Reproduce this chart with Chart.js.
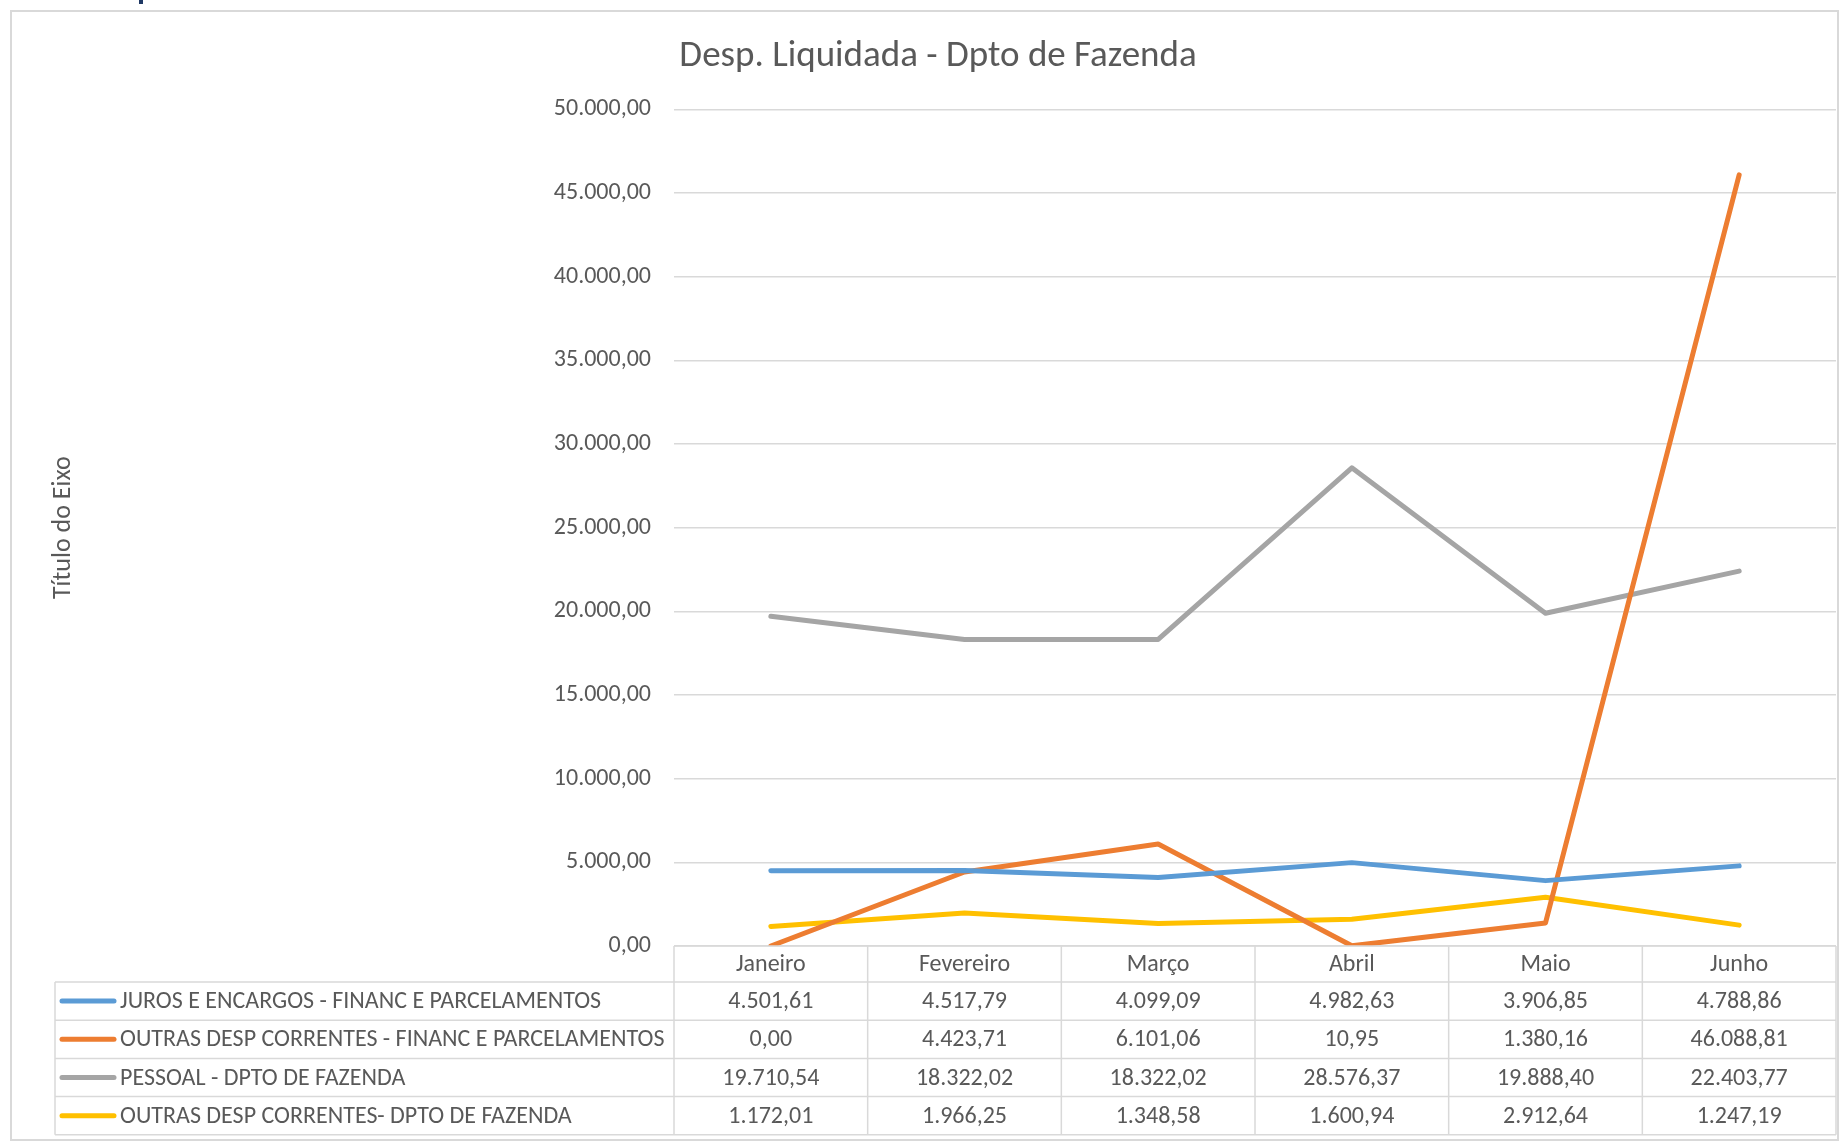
<!DOCTYPE html>
<html>
<head>
<meta charset="utf-8">
<script src="https://cdn.jsdelivr.net/npm/chart.js@4.4.1/dist/chart.umd.min.js"></script>
<style>
  html, body { margin: 0; padding: 0; background: #fff; }
  #wrap { width: 1847px; height: 1144px; position: relative; }
</style>
</head>
<body>
<div id="wrap"><canvas id="lineChart"></canvas></div>
<script>
const months = ['Janeiro', 'Fevereiro', 'Março', 'Abril', 'Maio', 'Junho'];
const juros = [4501.61, 4517.79, 4099.09, 4982.63, 3906.85, 4788.86];
const outrasFinanc = [0.00, 4423.71, 6101.06, 10.95, 1380.16, 46088.81];
const pessoal = [19710.54, 18322.02, 18322.02, 28576.37, 19888.40, 22403.77];
const outrasFazenda = [1172.01, 1966.25, 1348.58, 1600.94, 2912.64, 1247.19];
const seriesNames = [
    'JUROS E ENCARGOS - FINANC E PARCELAMENTOS',
    'OUTRAS DESP CORRENTES - FINANC E PARCELAMENTOS',
    'PESSOAL - DPTO DE FAZENDA',
    'OUTRAS DESP CORRENTES- DPTO DE FAZENDA'
];
const seriesColors = ['#5B9BD5', '#ED7D31', '#A5A5A5', '#FFC000'];
const yMax = 50000;
const yStep = 5000;

const FONT = 'Carlito, Calibri, Lato, sans-serif';
const TEXT = '#595959';
const GRID = '#D9D9D9';

// 4.501,61 style numbers
function fmt(v) {
    const parts = Number(v).toFixed(2).split('.');
    return parts[0].replace(/\B(?=(\d{3})+(?!\d))/g, '.') + ',' + parts[1];
}

// frame + data table under the x axis (Excel style)
const dataTable = {
    id: 'dataTable',
    beforeDraw(chart) {
        const c = chart.ctx;
        c.save();
        c.fillStyle = '#fff';
        c.fillRect(0, 0, chart.width, chart.height);
        c.strokeStyle = GRID;
        c.lineWidth = 2;
        c.strokeRect(11, 11, 1827, 1129);
        c.fillStyle = '#1F3864';
        c.fillRect(139, 0, 4, 4);
        c.restore();
    },
    afterDraw(chart) {
        const c = chart.ctx;
        const area = chart.chartArea;
        const x = chart.scales.x;
        const headerH = 36;
        const rowH = 38.2;
        const legendLeft = 55;
        const top = area.bottom;
        const bodyTop = top + headerH;
        const bottom = bodyTop + rowH * seriesNames.length;
        const colW = x.getPixelForValue(1) - x.getPixelForValue(0);
        const datasets = chart.data.datasets;

        c.save();
        c.strokeStyle = GRID;
        c.lineWidth = 1.5;
        c.beginPath();
        c.moveTo(area.left, top);
        c.lineTo(area.right, top);
        for (let r = 0; r <= seriesNames.length; r++) {
            const y = bodyTop + r * rowH;
            c.moveTo(legendLeft, y);
            c.lineTo(area.right, y);
        }
        for (let i = 0; i <= months.length; i++) {
            const px = x.getPixelForValue(0) - colW / 2 + i * colW;
            c.moveTo(px, top);
            c.lineTo(px, bottom);
        }
        c.moveTo(legendLeft, bodyTop);
        c.lineTo(legendLeft, bottom);
        c.stroke();

        c.font = '24px ' + FONT;
        c.textBaseline = 'middle';
        datasets.forEach((ds, r) => {
            const y = bodyTop + r * rowH + rowH / 2;
            c.strokeStyle = ds.borderColor;
            c.lineWidth = 5;
            c.lineCap = 'round';
            c.beginPath();
            c.moveTo(62, y);
            c.lineTo(114, y);
            c.stroke();
            c.fillStyle = TEXT;
            c.textAlign = 'left';
            c.fillText(ds.label, 120, y + 1);
            c.textAlign = 'center';
            ds.data.forEach((v, i) => {
                c.fillText(fmt(v), x.getPixelForValue(i), y + 1);
            });
        });
        c.restore();
    }
};

const ctx = document.getElementById('lineChart').getContext('2d');
const lineChart = new Chart(ctx, {
    type: 'line',
    data: {
        labels: months,
        datasets: [juros, outrasFinanc, pessoal, outrasFazenda].map((d, i) => ({
            label: seriesNames[i],
            data: d,
            borderColor: seriesColors[i],
            backgroundColor: seriesColors[i],
            borderWidth: 5,
            borderCapStyle: 'round',
            borderJoinStyle: 'round',
            pointRadius: 0,
            fill: false,
            tension: 0
        }))
    },
    options: {
        responsive: true,
        maintainAspectRatio: false,
        animation: false,
        layout: { padding: { left: 40, right: 11, top: 0, bottom: 0 } },
        plugins: {
            legend: { display: false },
            tooltip: { enabled: false },
            title: {
                display: true,
                text: 'Desp. Liquidada - Dpto de Fazenda',
                color: TEXT,
                font: { family: FONT, size: 37, weight: 'normal', lineHeight: 1.2 },
                padding: { top: 34.4, bottom: 30.6 }
            }
        },
        scales: {
            x: {
                offset: true,
                grid: { display: false, drawTicks: false },
                border: { display: false },
                ticks: {
                    color: TEXT,
                    font: { family: FONT, size: 24 },
                    padding: 5,
                    maxRotation: 0
                },
                afterFit(scale) { scale.height = 198; }
            },
            y: {
                min: 0,
                max: yMax,
                grid: { color: GRID, lineWidth: 1.5, drawTicks: false },
                border: { display: false },
                ticks: {
                    stepSize: yStep,
                    color: TEXT,
                    font: { family: FONT, size: 24 },
                    padding: 23,
                    callback: v => fmt(v)
                },
                title: {
                    display: true,
                    text: 'Título do Eixo',
                    color: TEXT,
                    font: { family: FONT, size: 26 },
                    padding: { top: 8, bottom: 0 }
                },
                afterFit(scale) { scale.width = 634; }
            }
        }
    },
    plugins: [dataTable]
});
</script>
</body>
</html>
